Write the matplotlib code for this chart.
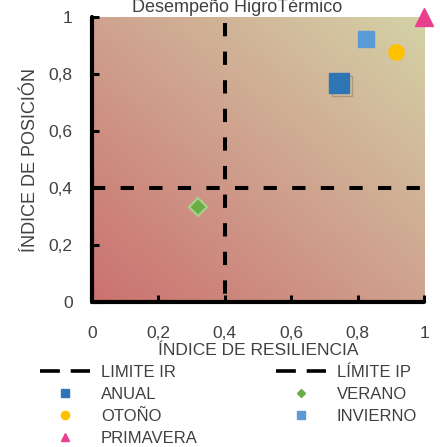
import numpy as np
import matplotlib
matplotlib.use("Agg")
import matplotlib.pyplot as plt
from matplotlib.colors import LinearSegmentedColormap
from matplotlib.lines import Line2D
from matplotlib.ticker import FuncFormatter
import matplotlib.patheffects as pe

plt.rcParams['font.family'] = ['Liberation Sans', 'DejaVu Sans']

# Index values per period
series = ["ANUAL", "VERANO", "OTOÑO", "INVIERNO", "PRIMAVERA"]
resiliencia = [0.745, 0.318, 0.917, 0.825, 1.0]
posicion = [0.767, 0.334, 0.878, 0.923, 1.0]
limite_ir = 0.4
limite_ip = 0.4
ticks = [0, 0.2, 0.4, 0.6, 0.8, 1]

styles = {
    "ANUAL": dict(marker="s", color="#2e75b6", ms=14.5, mec="#2e75b6"),
    "VERANO": dict(marker="D", color="#6aae44", ms=9.5, mec="#a9d18e", mew=1.5),
    "OTOÑO": dict(marker="o", color="#ffc000", ms=11, mec="#ffc000"),
    "INVIERNO": dict(marker="s", color="#5b9bd5", ms=12, mec="#5b9bd5"),
    "PRIMAVERA": dict(marker="^", color="#e8408f", ms=13, mec="#e8408f"),
}

text_color = "#404040"

fig = plt.figure(figsize=(4.40, 4.47), dpi=100)
ax = fig.add_axes([92 / 440, 1 - 302 / 447, 332 / 440, 285 / 447])

# Diagonal background gradient
cmap = LinearSegmentedColormap.from_list("bg", ["#cb716f", "#cfa28e", "#d4d2a7"])
gx, gy = np.meshgrid(np.linspace(0, 1, 200), np.linspace(0, 1, 200))
ax.imshow((gx + gy) / 2, cmap=cmap, extent=[0, 1, 0, 1], origin="lower",
          aspect="auto", zorder=0, interpolation="bilinear")

lw_lim = 2.9
dash = (3.3, 3.8)
ax.plot([limite_ir, limite_ir], [0.98, 0], color="black", lw=lw_lim,
        dashes=dash, zorder=2, label="LIMITE IR")
ax.plot([0, 1], [limite_ip, limite_ip], color="black", lw=lw_lim,
        dashes=dash, zorder=2, label="LÍMITE IP", clip_on=False)

for name, x, y in zip(series, resiliencia, posicion):
    st = dict(styles[name])
    ms = st.pop("ms")
    line, = ax.plot([x], [y], linestyle="none", markersize=ms, zorder=4,
                    clip_on=False, label=name, **st)
    if name == "ANUAL":
        line.set_path_effects([pe.SimpleLineShadow(offset=(2, -2), shadow_color="#6b5a3a", alpha=0.35),
                               pe.Normal()])

ax.set_xlim(0, 1)
ax.set_ylim(0, 1)
ax.set_xticks(ticks)
ax.set_yticks(ticks)
fmt = FuncFormatter(lambda v, p: ("%g" % v).replace(".", ","))
ax.xaxis.set_major_formatter(fmt)
ax.yaxis.set_major_formatter(fmt)
ax.tick_params(direction="in", length=5, width=2.2, colors="black",
               labelcolor=text_color, labelsize=12.5)
ax.tick_params(axis="y", pad=14)
ax.tick_params(axis="x", pad=17)
for s in ["top", "right"]:
    ax.spines[s].set_visible(False)
for s in ["left", "bottom"]:
    ax.spines[s].set_linewidth(3)
    ax.spines[s].set_capstyle("round")

ax.set_xlabel("ÍNDICE DE RESILIENCIA", fontsize=12.5, color=text_color, labelpad=2)
ax.set_ylabel("ÍNDICE DE POSICIÓN", fontsize=13, color=text_color, labelpad=7)
fig.text(237 / 440, 1 - 12 / 447, "Desempeño HigroTérmico", fontsize=13,
         color=text_color, ha="center", va="baseline")

# Legend laid out column by column
leg_dash = (5.5, 3.0)
leg_handles = [
    Line2D([], [], color="black", lw=2.6, dashes=leg_dash),
    Line2D([], [], marker="s", ls="none", color=styles["ANUAL"]["color"], ms=6),
    Line2D([], [], marker="o", ls="none", color=styles["OTOÑO"]["color"], ms=6),
    Line2D([], [], marker="^", ls="none", color=styles["PRIMAVERA"]["color"], ms=6),
    Line2D([], [], color="black", lw=2.6, dashes=leg_dash),
    Line2D([], [], marker="D", ls="none", color=styles["VERANO"]["color"], ms=4.5),
    Line2D([], [], marker="s", ls="none", color=styles["INVIERNO"]["color"], ms=6),
]
leg_labels = ["LIMITE IR", "ANUAL", "OTOÑO", "PRIMAVERA", "LÍMITE IP", "VERANO", "INVIERNO"]
fig.legend(leg_handles, leg_labels, ncol=2, loc="upper left",
           bbox_to_anchor=(40 / 440, 1 - 365 / 447), frameon=False,
           fontsize=12, labelcolor=text_color, handlelength=3.0,
           handletextpad=0.65, columnspacing=4.7, labelspacing=0.42,
           borderaxespad=0, borderpad=0)

fig.savefig("out.png", dpi=100)
